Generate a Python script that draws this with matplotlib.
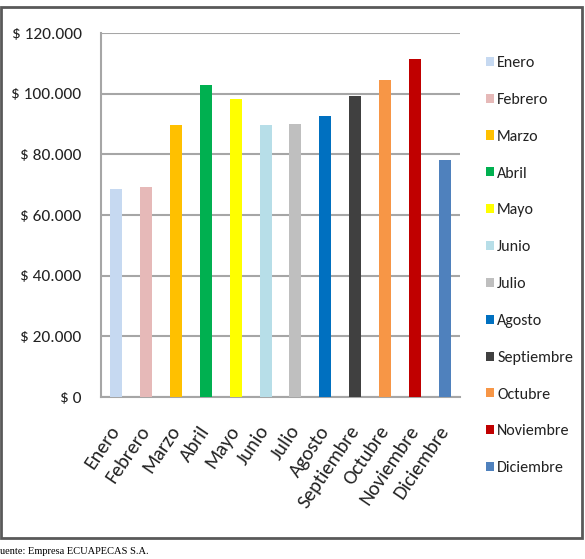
import matplotlib
matplotlib.use("Agg")
import matplotlib.pyplot as plt
from matplotlib.patches import Rectangle
from matplotlib.ticker import FuncFormatter

plt.rcParams["font.family"] = ["Carlito", "DejaVu Sans"]

# monthly values (dollars)
months = ["Enero", "Febrero", "Marzo", "Abril", "Mayo", "Junio", "Julio",
          "Agosto", "Septiembre", "Octubre", "Noviembre", "Diciembre"]
values = [68600, 69300, 89800, 103000, 98300, 89800, 90100,
          92700, 99300, 104600, 111500, 78200]
colors = ["#C6D9F1", "#E6B9B8", "#FFC000", "#00B050", "#FFFF00", "#B7DEE8",
          "#BFBFBF", "#0070C0", "#404040", "#F79646", "#C00000", "#4F81BD"]
yticks = [0, 20000, 40000, 60000, 80000, 100000, 120000]
source = "uente: Empresa ECUAPECAS S.A."

W, H = 585, 559
fig = plt.figure(figsize=(W / 100, H / 100), dpi=100)
ax = fig.add_axes([101 / W, 1 - 397 / H, (460 - 101) / W, (397 - 33) / H])

x = range(len(months))
bars = ax.bar(x, values, width=0.4, color=colors, zorder=3)
for b, m in zip(bars, months):
    b.set_label(m)

ax.set_xlim(-0.5, len(months) - 0.5)
ax.set_ylim(0, 120000)
ax.set_yticks(yticks)


def money(v, pos):
    if v == 0:
        return "$ 0"
    return "$ " + f"{int(v):,}".replace(",", ".")


ax.yaxis.set_major_formatter(FuncFormatter(money))
ax.grid(axis="y", color="#A6A6A6", linewidth=1.5, zorder=0)
ax.tick_params(axis="y", length=0, pad=14, labelsize=12.5, labelcolor="#222222")
ax.tick_params(axis="x", length=0, pad=22, labelsize=14.5, labelcolor="#222222")
ax.set_xticks(list(x))
ax.set_xticklabels(months, rotation=56, ha="right", va="center",
                   rotation_mode="anchor")
for s in ["top", "right"]:
    ax.spines[s].set_visible(False)
for s in ["left", "bottom"]:
    ax.spines[s].set_color("#A6A6A6")
    ax.spines[s].set_linewidth(1.5)

leg = ax.legend(loc="upper left", bbox_to_anchor=(486 / W, 1 - 56 / H),
                bbox_transform=fig.transFigure, frameon=False,
                fontsize=11.5, handlelength=0.5, handleheight=0.5,
                handletextpad=0.2, labelspacing=1.43, borderpad=0,
                borderaxespad=0)
for t in leg.get_texts():
    t.set_color("#222222")

# outer chart frame
fig.patches.append(Rectangle((1 / W, 1 - 538 / H), 581 / W, 531 / H,
                             transform=fig.transFigure, fill=False,
                             edgecolor="#595959", linewidth=2))

fig.text(0, 1 - 551 / H, source, family="Liberation Serif", fontsize=7.5,
         va="center", ha="left")

fig.savefig("out.png", dpi=100)
